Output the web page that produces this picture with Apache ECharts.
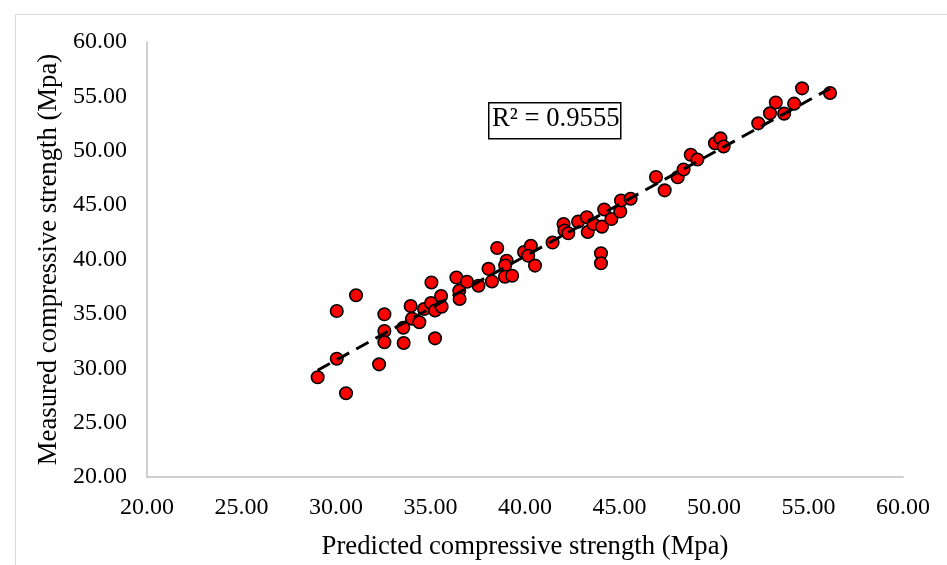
<!DOCTYPE html>
<html><head><meta charset="utf-8">
<script src="https://cdn.jsdelivr.net/npm/echarts@6/dist/echarts.min.js"></script>
<style>html,body{margin:0;padding:0;background:#fff}#c{width:947px;height:565px}</style>
</head><body><div id="c"></div>
<script>
const predicted = [29.03,30.04,30.53,30.04,31.06,32.28,32.56,32.56,32.56,33.58,
  33.56,33.95,34.02,34.41,34.66,35.03,35.05,35.24,35.24,35.56,
  35.59,36.37,36.52,36.54,36.93,37.54,38.07,38.25,38.53,39.03,
  38.95,38.94,39.32,39.95,40.31,40.17,40.53,41.46,42.04,42.09,
  42.29,42.81,43.27,43.32,43.62,44.07,44.19,44.02,44.02,44.57,
  45.04,45.08,45.59,46.93,47.39,48.08,48.39,48.77,49.12,50.05,
  50.34,50.51,52.34,52.96,53.27,53.71,54.24,54.66,56.14];
const measured = [29.17,30.88,27.70,35.26,36.71,30.36,34.96,33.43,32.39,32.32,
  33.73,35.72,34.56,34.23,35.45,36.00,37.89,35.31,32.75,36.64,
  35.66,38.34,37.12,36.37,37.96,37.59,39.14,37.98,41.06,39.89,
  39.45,38.42,38.51,40.69,41.26,40.34,39.44,41.56,43.26,42.67,
  42.41,43.48,43.89,42.53,43.26,43.02,44.60,40.57,39.65,43.72,
  44.41,45.43,45.59,47.59,46.36,47.56,48.28,49.63,49.19,50.69,
  51.14,50.39,52.52,53.44,54.44,53.41,54.33,55.74,55.31];
const xAxisName = 'Predicted compressive strength (Mpa)';
const yAxisName = 'Measured compressive strength (Mpa)';
const r2Label = 'R² = 0.9555';
const axisMin = 20, axisMax = 60, axisStep = 5;

// least-squares trendline (as the spreadsheet computes it)
const n = predicted.length;
let sx=0, sy=0, sxx=0, sxy=0;
for (let i=0;i<n;i++){ sx+=predicted[i]; sy+=measured[i]; sxx+=predicted[i]*predicted[i]; sxy+=predicted[i]*measured[i]; }
const slope = (n*sxy - sx*sy)/(n*sxx - sx*sx);
const icpt = (sy - slope*sx)/n;
const xLo = Math.min(...predicted), xHi = Math.max(...predicted);
const trend = [[xLo, icpt+slope*xLo],[xHi, icpt+slope*xHi]];

const FONT = '"Liberation Serif","Times New Roman",serif';
const chart = echarts.init(document.getElementById('c'));
chart.setOption({
  animation:false,
  backgroundColor:'#fff',
  grid:{left:147,right:44,top:42,bottom:88},
  xAxis:{type:'value',min:axisMin,max:axisMax,interval:axisStep,
    name:xAxisName,nameLocation:'middle',nameGap:56,
    nameTextStyle:{fontFamily:FONT,fontSize:26.7,color:'#000'},
    axisLine:{show:true,lineStyle:{color:'#bfbfbf',width:1.5}},
    axisTick:{show:false},splitLine:{show:false},
    axisLabel:{fontFamily:FONT,fontSize:24,color:'#000',margin:19,formatter:v=>v.toFixed(2)}},
  yAxis:{type:'value',min:axisMin,max:axisMax,interval:axisStep,
    name:yAxisName,nameLocation:'middle',nameGap:82,
    nameTextStyle:{fontFamily:FONT,fontSize:26.7,color:'#000'},
    axisLine:{show:true,lineStyle:{color:'#bfbfbf',width:1.5}},
    axisTick:{show:false},splitLine:{show:false},
    axisLabel:{fontFamily:FONT,fontSize:24,color:'#000',margin:20,formatter:v=>v.toFixed(2)}},
  series:[
    {type:'scatter',data:predicted.map((x,i)=>[x,measured[i]]),symbol:'circle',symbolSize:12.5,
     itemStyle:{color:'#ff0000',borderColor:'#000',borderWidth:1.6,opacity:1},z:2},
    {type:'line',data:trend,symbol:'none',silent:true,
     lineStyle:{color:'#000',width:3,type:[14,8]},z:3}
  ],
  graphic:[
    {type:'rect',left:13,top:12,shape:{width:960,height:600},style:{fill:'none',stroke:'#d9d9d9',lineWidth:1},silent:true},
    {type:'rect',left:488,top:102,shape:{width:132,height:36},style:{fill:'#fff',stroke:'#000',lineWidth:1.5},z:10},
    {type:'text',left:492,top:105,style:{text:r2Label,font:'26.7px '+FONT,fill:'#000'},z:11}
  ]
});
</script></body></html>
